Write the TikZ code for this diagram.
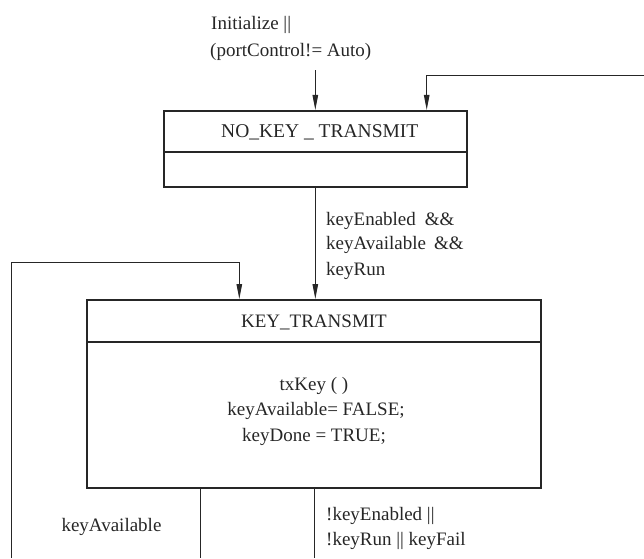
\documentclass[tikz,border=0pt]{standalone}
\usepackage{fontspec}
\setmainfont{Liberation Serif}
\usetikzlibrary{arrows.meta}
\begin{document}
\begin{tikzpicture}[x=1pt,y=-1pt,
  box/.style={draw=black!85, line width=2pt, inner sep=0pt, text=black!85, font=\fontsize{19}{25}\selectfont},
  conn/.style={draw=black!85, line width=1pt},
  arr/.style={conn, -{Triangle[length=15pt,width=5.5pt]}},
  lbl/.style={inner sep=0pt, text=black!85, font=\fontsize{19}{25}\selectfont}]
\useasboundingbox (0,0) rectangle (644,558);
% state boxes
\node[box, minimum width=302.7pt, minimum height=40.7pt, text height=13pt, text depth=0pt, font=\fontsize{19.5}{25}\selectfont] (nkt) at (315.3,131.3) {\hspace*{9pt}NO\_KEY \_ TRANSMIT};
\node[box, minimum width=302.7pt, minimum height=35pt] (nkb) at (315.3,169.2) {};
\node[box, minimum width=453.4pt, minimum height=42pt, text height=13pt, text depth=0pt] (kt) at (314,321) {KEY\_TRANSMIT};
\node[box, minimum width=453.4pt, minimum height=146.3pt] (kb) at (314,415.15) {};
% body text
\node[lbl, anchor=base] (a1) at (314,390) {txKey ( )};
\node[lbl, anchor=base] (a2) at (316,415.7) {keyAvailable= FALSE;};
\node[lbl, anchor=base] (a3) at (314,441) {keyDone = TRUE;};
% labels
\node[lbl, anchor=base west] (i1) at (211,29.3) {Initialize ||};
\node[lbl, anchor=base west] (i2) at (210,56.3) {(portControl!= Auto)};
\node[lbl, anchor=base west] (c1) at (326,225) {keyEnabled\hspace{9pt}\&\&};
\node[lbl, anchor=base west] (c2) at (326,249) {keyAvailable\hspace{8pt}\&\&};
\node[lbl, anchor=base west] (c3) at (326,275) {keyRun};
\node[lbl, anchor=base] (d1) at (111.5,531.7) {keyAvailable};
\node[lbl, anchor=base west] (e1) at (326,520) {!keyEnabled ||};
\node[lbl, anchor=base west] (e2) at (326,545) {!keyRun || keyFail};
% connectors
\coordinate (init) at (315.3,70);
\draw[arr] (init) -- (nkt.north);
\coordinate (rin) at (644,75);
\coordinate (rdrop) at (426.7,75);
\draw[arr] (rin) -- (rdrop) -- (rdrop |- nkt.north);
\draw[arr] (nkb.south) -- (nkb.south |- kt.north);
\coordinate (lbot) at (11.7,558);
\coordinate (ltop) at (239.3,262.3);
\draw[arr] (lbot) |- (ltop) -- (ltop |- kt.north);
\coordinate (b1) at (200.7,558);
\draw[conn] (b1 |- kb.south) -- (b1);
\coordinate (b2) at (314.3,558);
\draw[conn] (kb.south) -- (kb.south |- b2);
\end{tikzpicture}
\end{document}
